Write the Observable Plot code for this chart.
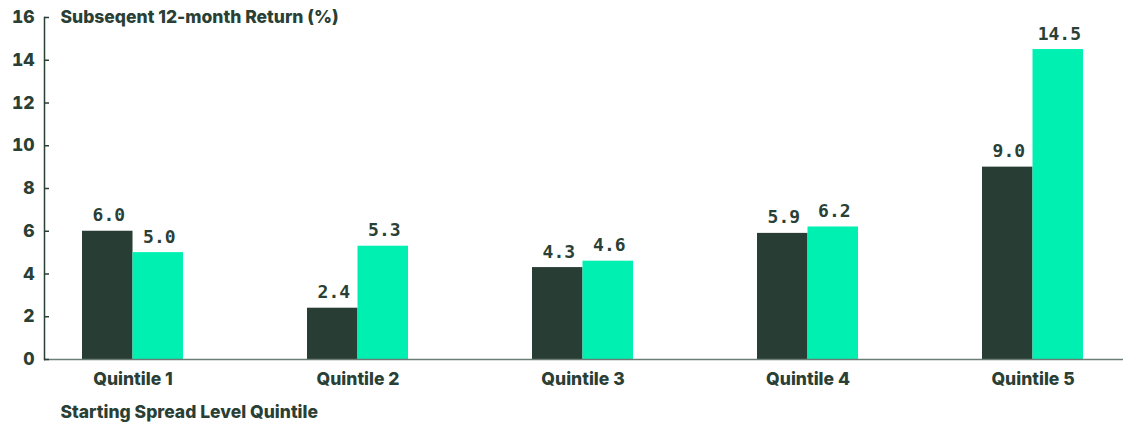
<!DOCTYPE html>
<html>
<head>
<meta charset="utf-8">
<script src="https://cdn.jsdelivr.net/npm/d3@7"></script>
<script src="https://cdn.jsdelivr.net/npm/@observablehq/plot@0.6"></script>
<style>
  html, body { margin: 0; padding: 0; background: #ffffff; }
  #chart svg { display: block; }
</style>
</head>
<body>
<div id="chart"></div>
<script>
const quintiles = ["Quintile 1", "Quintile 2", "Quintile 3", "Quintile 4", "Quintile 5"];
const seriesA = [6.0, 2.4, 4.3, 5.9, 9.0];   // dark bars
const seriesB = [5.0, 5.3, 4.6, 6.2, 14.5];  // green bars
const yTicks = [0, 2, 4, 6, 8, 10, 12, 14, 16];
const yTitle = "Subseqent 12-month Return (%)";
const xTitle = "Starting Spread Level Quintile";

const dark = "#283d33";
const green = "#00f0b2";
const ink = "#2a3f35";

const dataA = quintiles.map((q, i) => ({q, v: seriesA[i]}));
const dataB = quintiles.map((q, i) => ({q, v: seriesB[i]}));

const W = 1123, H = 428;
const labelFont = {fontFamily: "DejaVu Sans Mono", fontSize: 18, fontWeight: "bold", fill: ink, letterSpacing: 2.2};
const textFont = {fontWeight: 800, fontSize: 17.5, fill: ink, letterSpacing: 0.6};

const chart = Plot.plot({
  width: W,
  height: H,
  marginLeft: 44,
  marginRight: 0,
  marginTop: 17,
  marginBottom: 69,
  style: {fontFamily: "Inter", fontSize: "17px", color: ink, background: "#ffffff", overflow: "visible"},
  x: {domain: quintiles, paddingInner: 0.5511, paddingOuter: 0.1733, align: 0.487, label: null},
  y: {domain: [0, 16], label: null},
  marks: [
    Plot.barY(dataA, {x: "q", y: "v", fill: dark, insetLeft: 0, insetRight: 50.5}),
    Plot.barY(dataB, {x: "q", y: "v", fill: green, insetLeft: 50.5, insetRight: 0}),
    Plot.text(dataA, {x: "q", y: "v", text: d => d.v.toFixed(1), dx: -24.2, dy: -10, lineAnchor: "bottom", ...labelFont}),
    Plot.text(dataB, {x: "q", y: "v", text: d => d.v.toFixed(1), dx: 26.3, dy: -10, lineAnchor: "bottom", ...labelFont}),
    Plot.ruleY([0], {stroke: "#6b7d75", strokeWidth: 1.5}),
    Plot.frame({anchor: "left", stroke: ink, strokeWidth: 1.5}),
    Plot.axisY(yTicks, {tickSize: -5, tickPadding: 15, stroke: ink, strokeWidth: 1.5, ...textFont, label: null}),
    Plot.axisX({tickSize: 0, tickPadding: 13, ...textFont, label: null}),
    Plot.text([yTitle], {frameAnchor: "top-left", dx: 16, lineAnchor: "middle", textAnchor: "start", ...textFont}),
    Plot.text([xTitle], {frameAnchor: "bottom-left", dx: 16, dy: 53, lineAnchor: "middle", textAnchor: "start", ...textFont})
  ]
});
document.getElementById("chart").appendChild(chart);
</script>
</body>
</html>
